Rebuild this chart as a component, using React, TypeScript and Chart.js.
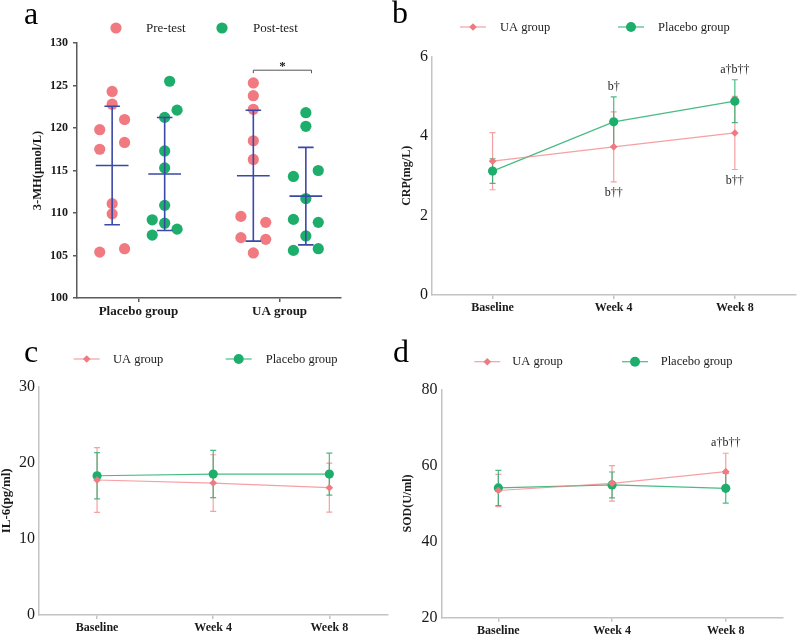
import React, { useEffect, useRef } from "react";
import { Chart, registerables } from "chart.js";
Chart.register(...registerables);

const SERIF = '"Liberation Serif", "Times New Roman", Times, serif';
const PINK = "#F07A80";
const PINK_LINE = "rgba(242,128,132,0.75)";
const GREEN = "#1DAE6C";
const GREEN_LINE = "rgba(40,175,112,0.85)";
const BLUE = "#3B48A6";
const TEXT = "#1a1a1a";

// ---------- Panel a: 3-MH (µmol/L) ----------
const groupLabels = ["Placebo group", "UA group"];
const placeboPre = [124.3, 122.8, 119.8, 121.0, 117.5, 118.3, 111.1, 109.9, 105.4, 105.8];
const placeboPreCol = [0, 0, -1, 1, -1, 1, 0, 0, -1, 1];
const placeboPost = [125.5, 122.1, 121.25, 117.3, 115.3, 110.9, 109.2, 108.8, 108.1, 107.4];
const placeboPostCol = [0.4, 1, 0, 0, 0, 0, -1, 0, 1, -1];
const uaPre = [125.3, 123.8, 122.2, 118.5, 116.3, 109.6, 108.9, 107.1, 106.9, 105.3];
const uaPreCol = [0, 0, 0, 0, 0, -1, 1, -1, 1, 0];
const uaPost = [121.8, 120.2, 114.3, 115.0, 111.7, 109.25, 108.9, 107.3, 105.6, 105.8];
const uaPostCol = [0, 0, -1, 1, 0, -1, 1, 0, -1, 1];
const mhTicks = [100, 105, 110, 115, 120, 125, 130];
const sigBracketValue = 126.8;
const sigLabel = "*";

// ---------- Line panels ----------
const timeLabels = ["Baseline", "Week 4", "Week 8"];

const crpUA = [3.37, 3.73, 4.08];
const crpUASd = [0.72, 0.88, 0.92];
const crpPlacebo = [3.12, 4.36, 4.88];
const crpPlaceboSd = [0.31, 0.63, 0.54];
const crpTicks = [0, 2, 4, 6];

const il6UA = [17.74, 17.34, 16.73];
const il6UASd = [4.25, 3.72, 3.22];
const il6Placebo = [18.3, 18.52, 18.52];
const il6PlaceboSd = [3.05, 3.1, 2.76];
const il6Ticks = [0, 10, 20, 30];

const sodUA = [53.42, 55.3, 58.37];
const sodUASd = [4.24, 4.65, 4.83];
const sodPlacebo = [54.08, 54.87, 53.99];
const sodPlaceboSd = [4.6, 3.4, 3.9];
const sodTicks = [20, 40, 60, 80];

type Note = { series: "ua" | "placebo"; index: number; text: string; side: "above" | "below" };
const crpNotes: Note[] = [
  { series: "placebo", index: 1, text: "b†", side: "above" },
  { series: "ua", index: 1, text: "b††", side: "below" },
  { series: "placebo", index: 2, text: "a†b††", side: "above" },
  { series: "ua", index: 2, text: "b††", side: "below" },
];
const il6Notes: Note[] = [];
const sodNotes: Note[] = [{ series: "ua", index: 2, text: "a†b††", side: "above" }];

// ---------- helpers ----------
type Area = { left: number; top: number; right: number; bottom: number };
const mean = (a: number[]) => a.reduce((s, v) => s + v, 0) / a.length;
const stdev = (a: number[]) => {
  const m = mean(a);
  return Math.sqrt(a.reduce((s, v) => s + (v - m) * (v - m), 0) / (a.length - 1));
};

function baseOptions(W: number, area: Area) {
  return {
    responsive: false,
    animation: false as const,
    devicePixelRatio: 1,
    events: [] as any[],
    layout: { padding: { left: 0, top: area.top, right: W - area.right, bottom: 0 } },
    plugins: { legend: { display: false }, tooltip: { enabled: false } },
  };
}

function letterPlugin(letter: string, x: number, y: number) {
  return {
    id: "letter",
    afterDraw(chart: any) {
      const ctx = chart.ctx;
      ctx.save();
      ctx.font = `32px ${SERIF}`;
      ctx.fillStyle = "#000";
      ctx.textAlign = "left";
      ctx.textBaseline = "alphabetic";
      ctx.fillText(letter, x, y);
      ctx.restore();
    },
  };
}

type LegendItem = {
  label: string;
  color: string;
  lineColor?: string;
  marker: "circle" | "diamond";
  r: number;
  cx: number;
  lineHalf: number;
  textX: number;
};
function legendPlugin(items: LegendItem[], y: number, fontSize: number) {
  return {
    id: "customLegend",
    afterDraw(chart: any) {
      const ctx = chart.ctx;
      ctx.save();
      items.forEach((it) => {
        if (it.lineHalf > 0 && it.lineColor) {
          ctx.strokeStyle = it.lineColor;
          ctx.lineWidth = 1.2;
          ctx.beginPath();
          ctx.moveTo(it.cx - it.lineHalf, y);
          ctx.lineTo(it.cx + it.lineHalf, y);
          ctx.stroke();
        }
        ctx.fillStyle = it.color;
        ctx.beginPath();
        if (it.marker === "circle") {
          ctx.arc(it.cx, y, it.r, 0, Math.PI * 2);
        } else {
          ctx.moveTo(it.cx, y - it.r);
          ctx.lineTo(it.cx + it.r, y);
          ctx.lineTo(it.cx, y + it.r);
          ctx.lineTo(it.cx - it.r, y);
          ctx.closePath();
        }
        ctx.fill();
        ctx.fillStyle = "#222";
        ctx.font = `${fontSize}px ${SERIF}`;
        ctx.textAlign = "left";
        ctx.textBaseline = "middle";
        ctx.fillText(it.label, it.textX, y + 0.5);
      });
      ctx.restore();
    },
  };
}

function yScale(
  area: Area,
  o: {
    ticks: number[];
    title: string;
    titleSize: number;
    titlePad: number;
    tickSize: number;
    tickBold: boolean;
    tickPad: number;
    drawTicks: boolean;
    axisColor: string;
  }
) {
  return {
    type: "linear" as const,
    min: o.ticks[0],
    max: o.ticks[o.ticks.length - 1],
    afterFit: (s: any) => {
      s.width = area.left;
    },
    afterBuildTicks: (s: any) => {
      s.ticks = o.ticks.map((v) => ({ value: v }));
    },
    ticks: {
      autoSkip: false,
      color: TEXT,
      padding: o.tickPad,
      font: { family: SERIF, size: o.tickSize, weight: o.tickBold ? ("bold" as const) : ("normal" as const) },
    },
    grid: { drawOnChartArea: false, drawTicks: o.drawTicks, tickLength: 4, color: o.axisColor, lineWidth: 1.5 },
    border: { color: o.axisColor, width: 1.5 },
    title: {
      display: true,
      text: o.title,
      color: TEXT,
      padding: { top: o.titlePad, bottom: 0 },
      font: { family: SERIF, size: o.titleSize, weight: "bold" as const, lineHeight: 1.2 },
    },
  };
}

// ---------- Panel a ----------
const SIDE = 0.186;
const JIT = 0.088;

function makePanelA(canvas: HTMLCanvasElement, W: number, H: number) {
  const area: Area = { left: 77, top: 43, right: 341, bottom: 298 };
  const groups = [
    { pre: placeboPre, preCol: placeboPreCol, post: placeboPost, postCol: placeboPostCol, c: 1 },
    { pre: uaPre, preCol: uaPreCol, post: uaPost, postCol: uaPostCol, c: 2 },
  ];
  const preData: { x: number; y: number }[] = [];
  const postData: { x: number; y: number }[] = [];
  groups.forEach((g) => {
    g.pre.forEach((v, i) => preData.push({ x: g.c - SIDE + g.preCol[i] * JIT, y: v }));
    g.post.forEach((v, i) => postData.push({ x: g.c + SIDE + g.postCol[i] * JIT, y: v }));
  });

  const meanSdPlugin = {
    id: "meanSd",
    afterDatasetsDraw(chart: any) {
      const { ctx } = chart;
      const xs = chart.scales.x;
      const ys = chart.scales.y;
      ctx.save();
      ctx.strokeStyle = BLUE;
      ctx.lineWidth = 1.6;
      groups.forEach((g) => {
        [
          { vals: g.pre, cx: g.c - SIDE },
          { vals: g.post, cx: g.c + SIDE },
        ].forEach(({ vals, cx }) => {
          const m = mean(vals);
          const s = stdev(vals);
          const px = xs.getPixelForValue(cx);
          const half = xs.getPixelForValue(cx + 0.116) - px;
          const cap = xs.getPixelForValue(cx + 0.055) - px;
          const pm = ys.getPixelForValue(m);
          const pt = ys.getPixelForValue(m + s);
          const pb = ys.getPixelForValue(m - s);
          ctx.beginPath();
          ctx.moveTo(px - half, pm);
          ctx.lineTo(px + half, pm);
          ctx.moveTo(px, pt);
          ctx.lineTo(px, pb);
          ctx.moveTo(px - cap, pt);
          ctx.lineTo(px + cap, pt);
          ctx.moveTo(px - cap, pb);
          ctx.lineTo(px + cap, pb);
          ctx.stroke();
        });
      });
      // significance bracket for UA group
      const by = ys.getPixelForValue(sigBracketValue);
      const x1 = xs.getPixelForValue(2 - SIDE);
      const x2 = xs.getPixelForValue(2 + SIDE + 0.04);
      ctx.strokeStyle = "#555";
      ctx.lineWidth = 1;
      ctx.beginPath();
      ctx.moveTo(x1, by + 3);
      ctx.lineTo(x1, by);
      ctx.lineTo(x2, by);
      ctx.lineTo(x2, by + 3);
      ctx.stroke();
      ctx.fillStyle = TEXT;
      ctx.font = `bold 13px ${SERIF}`;
      ctx.textAlign = "center";
      ctx.textBaseline = "alphabetic";
      ctx.fillText(sigLabel, (x1 + x2) / 2, by);
      ctx.restore();
    },
  };

  return new Chart(canvas, {
    type: "scatter",
    data: {
      datasets: [
        { label: "Pre-test", data: preData, backgroundColor: PINK, borderWidth: 0, pointRadius: 5.6 },
        { label: "Post-test", data: postData, backgroundColor: GREEN, borderWidth: 0, pointRadius: 5.6 },
      ],
    },
    options: {
      ...baseOptions(W, area),
      scales: {
        x: {
          type: "linear",
          min: 0.565,
          max: 2.435,
          afterFit: (s: any) => {
            s.height = H - area.bottom;
          },
          afterBuildTicks: (s: any) => {
            s.ticks = [{ value: 1 }, { value: 2 }];
          },
          ticks: {
            autoSkip: false,
            maxRotation: 0,
            color: TEXT,
            padding: 2,
            font: { family: SERIF, size: 13, weight: "bold" },
            callback: (v: any) => groupLabels[Math.round(Number(v)) - 1],
          },
          grid: { drawOnChartArea: false, drawTicks: true, tickLength: 4, color: "#5a5a5a", lineWidth: 1.5 },
          border: { color: "#5a5a5a", width: 1.5 },
        },
        y: yScale(area, {
          ticks: mhTicks,
          title: "3-MH(μmol/L)",
          titleSize: 12.5,
          titlePad: 30.5,
          tickSize: 12,
          tickBold: true,
          tickPad: 5,
          drawTicks: true,
          axisColor: "#5a5a5a",
        }),
      },
    } as any,
    plugins: [
      meanSdPlugin,
      letterPlugin("a", 24, 24),
      legendPlugin(
        [
          { label: "Pre-test", color: PINK, marker: "circle", r: 5.6, cx: 116, lineHalf: 0, textX: 146 },
          { label: "Post-test", color: GREEN, marker: "circle", r: 5.6, cx: 222, lineHalf: 0, textX: 253 },
        ],
        28,
        13
      ),
    ],
  });
}

// ---------- Line panels ----------
type LineSpec = {
  area: Area;
  ua: number[];
  uaSd: number[];
  placebo: number[];
  placeboSd: number[];
  ticks: number[];
  title: string;
  titleSize: number;
  titlePad: number;
  notes: Note[];
  letter: string;
  letterX: number;
  letterY: number;
  legendY: number;
  legendX: number[]; // [uaCenter, uaText, placeboCenter, placeboText]
};

function makeLinePanel(canvas: HTMLCanvasElement, W: number, H: number, sp: LineSpec) {
  const { area } = sp;
  const series = [
    { key: "ua", values: sp.ua, sd: sp.uaSd, color: PINK_LINE },
    { key: "placebo", values: sp.placebo, sd: sp.placeboSd, color: GREEN_LINE },
  ];
  const errPlugin = {
    id: "errBars",
    beforeDatasetsDraw(chart: any) {
      const { ctx } = chart;
      const xs = chart.scales.x;
      const ys = chart.scales.y;
      ctx.save();
      ctx.lineWidth = 1.2;
      series.forEach((s) => {
        ctx.strokeStyle = s.color;
        s.values.forEach((v, i) => {
          const px = xs.getPixelForValue(i);
          const pt = ys.getPixelForValue(v + s.sd[i]);
          const pb = ys.getPixelForValue(v - s.sd[i]);
          ctx.beginPath();
          ctx.moveTo(px, pt);
          ctx.lineTo(px, pb);
          ctx.moveTo(px - 3, pt);
          ctx.lineTo(px + 3, pt);
          ctx.moveTo(px - 3, pb);
          ctx.lineTo(px + 3, pb);
          ctx.stroke();
        });
      });
      ctx.restore();
    },
    afterDatasetsDraw(chart: any) {
      const { ctx } = chart;
      const xs = chart.scales.x;
      const ys = chart.scales.y;
      ctx.save();
      ctx.fillStyle = "#222";
      ctx.font = `12px ${SERIF}`;
      ctx.textAlign = "center";
      ctx.textBaseline = "middle";
      sp.notes.forEach((n) => {
        const s = series.find((q) => q.key === n.series)!;
        const v = s.values[n.index];
        const sd = s.sd[n.index];
        const px = xs.getPixelForValue(n.index);
        const py = n.side === "above" ? ys.getPixelForValue(v + sd) - 10 : ys.getPixelForValue(v - sd) + 11;
        ctx.fillText(n.text, px, py);
      });
      ctx.restore();
    },
  };

  return new Chart(canvas, {
    type: "line",
    data: {
      labels: timeLabels,
      datasets: [
        {
          label: "UA group",
          data: sp.ua,
          borderColor: PINK_LINE,
          borderWidth: 1.2,
          backgroundColor: PINK,
          pointBackgroundColor: PINK,
          pointBorderWidth: 0,
          pointStyle: "rectRot",
          pointRadius: 3.8,
          tension: 0,
        },
        {
          label: "Placebo group",
          data: sp.placebo,
          borderColor: GREEN_LINE,
          borderWidth: 1.2,
          backgroundColor: GREEN,
          pointBackgroundColor: GREEN,
          pointBorderWidth: 0,
          pointStyle: "circle",
          pointRadius: 4.6,
          tension: 0,
        },
      ],
    },
    options: {
      ...baseOptions(W, area),
      scales: {
        x: {
          type: "category",
          offset: true,
          afterFit: (s: any) => {
            s.height = H - area.bottom;
          },
          ticks: {
            autoSkip: false,
            maxRotation: 0,
            color: TEXT,
            padding: 2,
            font: { family: SERIF, size: 12, weight: "bold" },
          },
          grid: { drawOnChartArea: false, drawTicks: true, tickLength: 4, color: "#c4c4c4", lineWidth: 1.5, offset: false },
          border: { color: "#c4c4c4", width: 1.5 },
        },
        y: yScale(area, {
          ticks: sp.ticks,
          title: sp.title,
          titleSize: sp.titleSize,
          titlePad: sp.titlePad,
          tickSize: 16,
          tickBold: false,
          tickPad: 4,
          drawTicks: false,
          axisColor: "#c4c4c4",
        }),
      },
    } as any,
    plugins: [
      errPlugin,
      letterPlugin(sp.letter, sp.letterX, sp.letterY),
      legendPlugin(
        [
          { label: "UA group", color: PINK, lineColor: PINK_LINE, marker: "diamond", r: 3.8, cx: sp.legendX[0], lineHalf: 13, textX: sp.legendX[1] },
          { label: "Placebo group", color: GREEN, lineColor: GREEN_LINE, marker: "circle", r: 5, cx: sp.legendX[2], lineHalf: 13, textX: sp.legendX[3] },
        ],
        sp.legendY,
        12.5
      ),
    ],
  });
}

// Canvas regions (top canvases are taller than their row so bottom labels are not clipped;
// canvases are transparent, so overlapping is harmless).
const PANELS = {
  a: { x: 0, y: 0, w: 390, h: 330 },
  b: { x: 390, y: 0, w: 410, h: 330 },
  c: { x: 0, y: 318, w: 392, h: 318 },
  d: { x: 392, y: 318, w: 408, h: 318 },
};

export default function App() {
  const ra = useRef<HTMLCanvasElement>(null);
  const rb = useRef<HTMLCanvasElement>(null);
  const rc = useRef<HTMLCanvasElement>(null);
  const rd = useRef<HTMLCanvasElement>(null);

  useEffect(() => {
    const charts: Chart[] = [];
    charts.push(makePanelA(ra.current!, PANELS.a.w, PANELS.a.h));
    charts.push(
      makeLinePanel(rb.current!, PANELS.b.w, PANELS.b.h, {
        area: { left: 42, top: 56.7, right: 408, bottom: 295 },
        ua: crpUA,
        uaSd: crpUASd,
        placebo: crpPlacebo,
        placeboSd: crpPlaceboSd,
        ticks: crpTicks,
        title: "CRP(mg/L)",
        titleSize: 12,
        titlePad: 9.8,
        notes: crpNotes,
        letter: "b",
        letterX: 2,
        letterY: 23,
        legendY: 27,
        legendX: [83, 110, 241, 268],
      })
    );
    charts.push(
      makeLinePanel(rc.current!, PANELS.c.w, PANELS.c.h, {
        area: { left: 39, top: 68.7, right: 390.6, bottom: 297 },
        ua: il6UA,
        uaSd: il6UASd,
        placebo: il6Placebo,
        placeboSd: il6PlaceboSd,
        ticks: il6Ticks,
        title: "IL-6(pg/ml)",
        titleSize: 13,
        titlePad: -0.8,
        notes: il6Notes,
        letter: "c",
        letterX: 24,
        letterY: 44,
        legendY: 41,
        legendX: [86.7, 113, 238.7, 265.7],
      })
    );
    charts.push(
      makeLinePanel(rd.current!, PANELS.d.w, PANELS.d.h, {
        area: { left: 49.5, top: 71.3, right: 390.6, bottom: 299.7 },
        ua: sodUA,
        uaSd: sodUASd,
        placebo: sodPlacebo,
        placeboSd: sodPlaceboSd,
        ticks: sodTicks,
        title: "SOD(U/ml)",
        titleSize: 12,
        titlePad: 8.8,
        notes: sodNotes,
        letter: "d",
        letterX: 1,
        letterY: 44,
        legendY: 43.7,
        legendX: [95.3, 120.3, 243, 268.7],
      })
    );
    return () => charts.forEach((c) => c.destroy());
  }, []);

  const st = (p: { x: number; y: number; w: number; h: number }) => ({
    position: "absolute" as const,
    left: p.x,
    top: p.y,
    width: p.w,
    height: p.h,
  });

  return (
    <div style={{ position: "absolute", left: 0, top: 0, width: 800, height: 636, background: "#fff" }}>
      <canvas ref={ra} width={PANELS.a.w} height={PANELS.a.h} style={st(PANELS.a)} />
      <canvas ref={rb} width={PANELS.b.w} height={PANELS.b.h} style={st(PANELS.b)} />
      <canvas ref={rc} width={PANELS.c.w} height={PANELS.c.h} style={st(PANELS.c)} />
      <canvas ref={rd} width={PANELS.d.w} height={PANELS.d.h} style={st(PANELS.d)} />
    </div>
  );
}
